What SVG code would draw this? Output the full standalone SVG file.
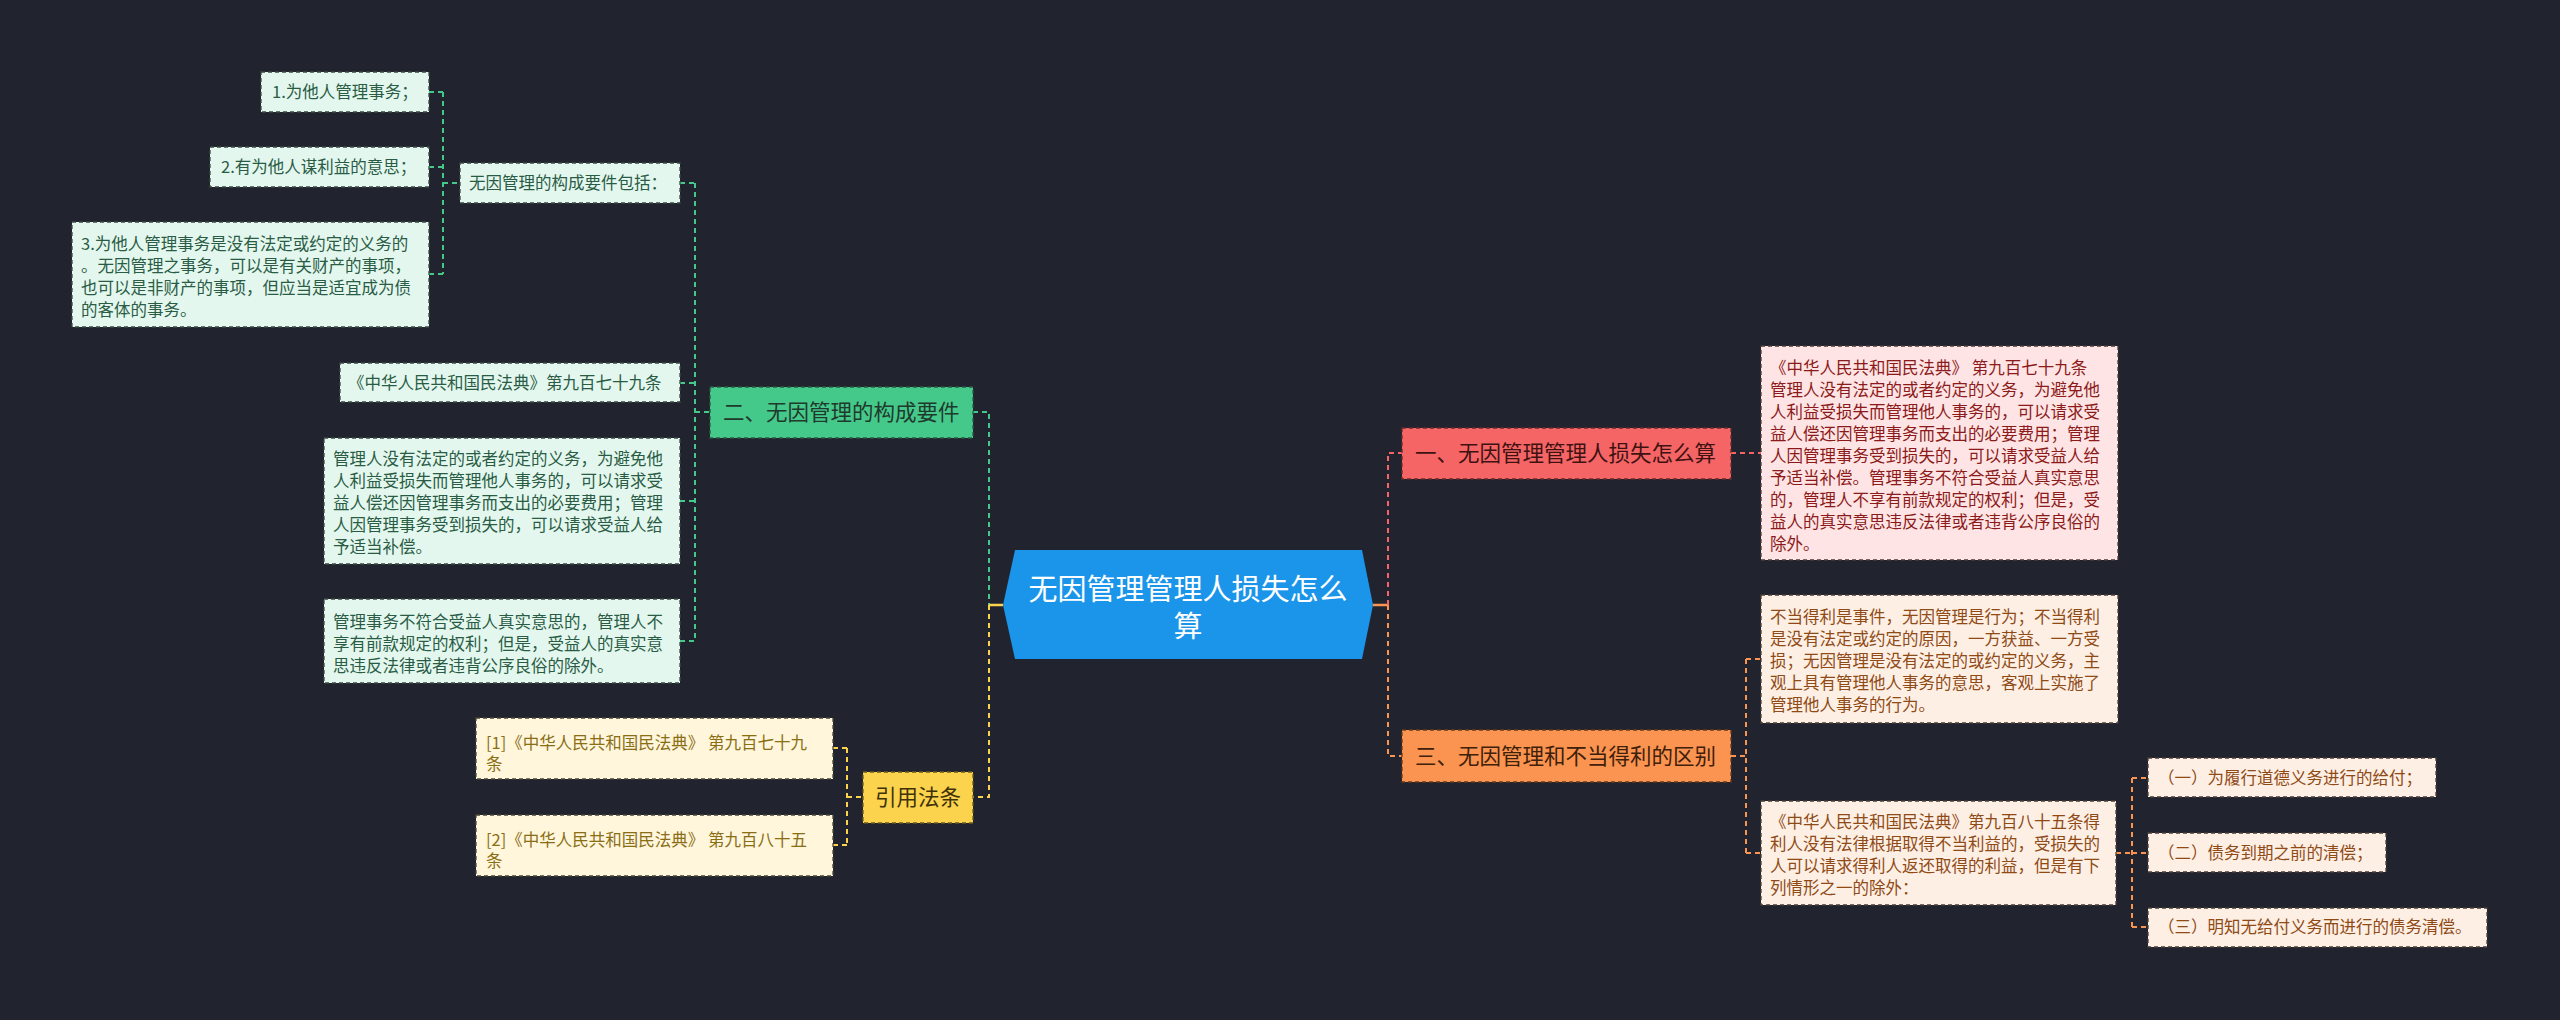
<svg xmlns="http://www.w3.org/2000/svg" width="2560" height="1020" viewBox="0 0 2560 1020">
<style>
text{font-family:"Noto Sans CJK SC","Noto Sans",sans-serif;}
.c{font-size:16.5px;}
.m{font-size:21.5px;}
.bd{stroke-width:1.3;stroke-dasharray:4 3;}
.gC rect{fill:#e3f7ee;stroke:#3a4a42;}
.gC text{fill:#2a5c45;}
.rC rect{fill:#fee4e4;stroke:#4a3a3a;}
.rC text{fill:#8c1a1a;}
.oC rect{fill:#fdefe4;stroke:#4a3e36;}
.oC text{fill:#8f4a16;}
.yC rect{fill:#fff6dc;stroke:#4a4636;}
.yC text{fill:#8a6e14;}
.ln{fill:none;stroke-width:2;stroke-dasharray:5 4;}
.lg{stroke:#45c98b;}
.lr{stroke:#f56565;}
.lo{stroke:#fa9450;}
.ly{stroke:#fcd34d;}
</style>
<rect width="2560" height="1020" fill="#21242f"/>
<g id="connectors">
  <path class="ln lg" d="M429 92H443M429 167H443M429 274H443M443 92V274M443 183H460"/>
  <path class="ln lg" d="M680 183H695M680 383H695M680 501H695M680 641H695M695 183V641M695 412H710"/>
  <path class="ln lg" d="M973 412H989V605"/>
  <path class="ln ly" d="M989 605V797H973"/>
  <path d="M989 605H1003" stroke="#fcd34d" stroke-width="2.5" fill="none"/>
  <path class="ln ly" d="M833 748H847M833 845H847M847 748V845M847 797H863"/>
  <path d="M1373 605H1388" stroke="#fa9450" stroke-width="2.5" fill="none"/>
  <path class="ln lr" d="M1388 605V453H1402M1731 453H1761"/>
  <path class="ln lo" d="M1388 605V756H1402"/>
  <path class="ln lo" d="M1731 756H1746M1746 659V853M1746 659H1761M1746 853H1761"/>
  <path class="ln lo" d="M2116 853H2132M2132 778V927M2132 778H2148M2132 853H2148M2132 927H2148"/>
</g>
<g id="root">
  <polygon points="1003,605 1015,550 1362,550 1373,605 1362,659 1015,659" fill="#1b95ea"/>
  <text x="1188" y="600" font-size="29" fill="#ffffff" text-anchor="middle">无因管理管理人损失怎么</text>
  <text x="1188" y="637" font-size="29" fill="#ffffff" text-anchor="middle">算</text>
</g>
<g id="n2">
  <rect class="bd" x="710" y="387" width="263" height="51" fill="#45c98b" stroke="#2a5a44"/>
  <text class="m" x="723" y="420" fill="#1f3a2c">二、无因管理的构成要件</text>
</g>
<g id="n2a" class="gC">
  <rect class="bd" x="460" y="163" width="220" height="40"/>
  <text class="c" x="469" y="189">无因管理的构成要件包括：</text>
</g>
<g id="n2a1" class="gC">
  <rect class="bd" x="261" y="72" width="168" height="40"/>
  <text class="c" x="272" y="98">1.为他人管理事务；</text>
</g>
<g id="n2a2" class="gC">
  <rect class="bd" x="210" y="147" width="219" height="40"/>
  <text class="c" x="221" y="173">2.有为他人谋利益的意思；</text>
</g>
<g id="n2a3" class="gC">
  <rect class="bd" x="72" y="222" width="357" height="105"/>
  <text class="c" x="81" y="250">3.为他人管理事务是没有法定或约定的义务的</text>
  <text class="c" x="81" y="272">。无因管理之事务，可以是有关财产的事项，</text>
  <text class="c" x="81" y="294">也可以是非财产的事项，但应当是适宜成为债</text>
  <text class="c" x="81" y="316">的客体的事务。</text>
</g>
<g id="n2b" class="gC">
  <rect class="bd" x="340" y="363" width="340" height="39"/>
  <text class="c" x="348" y="389">《中华人民共和国民法典》第九百七十九条</text>
</g>
<g id="n2c" class="gC">
  <rect class="bd" x="324" y="438" width="356" height="126"/>
  <text class="c" x="333" y="465">管理人没有法定的或者约定的义务，为避免他</text>
  <text class="c" x="333" y="487">人利益受损失而管理他人事务的，可以请求受</text>
  <text class="c" x="333" y="509">益人偿还因管理事务而支出的必要费用；管理</text>
  <text class="c" x="333" y="531">人因管理事务受到损失的，可以请求受益人给</text>
  <text class="c" x="333" y="553">予适当补偿。</text>
</g>
<g id="n2d" class="gC">
  <rect class="bd" x="324" y="599" width="356" height="84"/>
  <text class="c" x="333" y="628">管理事务不符合受益人真实意思的，管理人不</text>
  <text class="c" x="333" y="650">享有前款规定的权利；但是，受益人的真实意</text>
  <text class="c" x="333" y="672">思违反法律或者违背公序良俗的除外。</text>
</g>
<g id="ref">
  <rect class="bd" x="863" y="772" width="110" height="51" fill="#fcd34d" stroke="#6a5a20"/>
  <text class="m" x="875" y="805" fill="#3f3208">引用法条</text>
</g>
<g id="ref1" class="yC">
  <rect class="bd" x="476" y="718" width="357" height="61"/>
  <text class="c" x="486" y="749">[1]《中华人民共和国民法典》 第九百七十九</text>
  <text class="c" x="486" y="770">条</text>
</g>
<g id="ref2" class="yC">
  <rect class="bd" x="476" y="815" width="357" height="61"/>
  <text class="c" x="486" y="846">[2]《中华人民共和国民法典》 第九百八十五</text>
  <text class="c" x="486" y="867">条</text>
</g>
<g id="n1">
  <rect class="bd" x="1402" y="428" width="329" height="51" fill="#f56565" stroke="#6a2a2a"/>
  <text class="m" x="1415" y="461" fill="#3f1212">一、无因管理管理人损失怎么算</text>
</g>
<g id="n1a" class="rC">
  <rect class="bd" x="1761" y="346" width="357" height="214"/>
  <text class="c" x="1770" y="374">《中华人民共和国民法典》 第九百七十九条</text>
  <text class="c" x="1770" y="396">管理人没有法定的或者约定的义务，为避免他</text>
  <text class="c" x="1770" y="418">人利益受损失而管理他人事务的，可以请求受</text>
  <text class="c" x="1770" y="440">益人偿还因管理事务而支出的必要费用；管理</text>
  <text class="c" x="1770" y="462">人因管理事务受到损失的，可以请求受益人给</text>
  <text class="c" x="1770" y="484">予适当补偿。管理事务不符合受益人真实意思</text>
  <text class="c" x="1770" y="506">的，管理人不享有前款规定的权利；但是，受</text>
  <text class="c" x="1770" y="528">益人的真实意思违反法律或者违背公序良俗的</text>
  <text class="c" x="1770" y="550">除外。</text>
</g>
<g id="n3">
  <rect class="bd" x="1402" y="730" width="329" height="52" fill="#fa9450" stroke="#6a3a1a"/>
  <text class="m" x="1415" y="764" fill="#3f200a">三、无因管理和不当得利的区别</text>
</g>
<g id="n3a" class="oC">
  <rect class="bd" x="1761" y="595" width="357" height="128"/>
  <text class="c" x="1770" y="623">不当得利是事件，无因管理是行为；不当得利</text>
  <text class="c" x="1770" y="645">是没有法定或约定的原因，一方获益、一方受</text>
  <text class="c" x="1770" y="667">损；无因管理是没有法定的或约定的义务，主</text>
  <text class="c" x="1770" y="689">观上具有管理他人事务的意思，客观上实施了</text>
  <text class="c" x="1770" y="711">管理他人事务的行为。</text>
</g>
<g id="n3b" class="oC">
  <rect class="bd" x="1761" y="801" width="355" height="104"/>
  <text class="c" x="1770" y="828">《中华人民共和国民法典》第九百八十五条得</text>
  <text class="c" x="1770" y="850">利人没有法律根据取得不当利益的，受损失的</text>
  <text class="c" x="1770" y="872">人可以请求得利人返还取得的利益，但是有下</text>
  <text class="c" x="1770" y="894">列情形之一的除外：</text>
</g>
<g id="n3b1" class="oC">
  <rect class="bd" x="2148" y="758" width="288" height="39"/>
  <text class="c" x="2158" y="784">（一）为履行道德义务进行的给付；</text>
</g>
<g id="n3b2" class="oC">
  <rect class="bd" x="2148" y="833" width="238" height="39"/>
  <text class="c" x="2158" y="859">（二）债务到期之前的清偿；</text>
</g>
<g id="n3b3" class="oC">
  <rect class="bd" x="2148" y="908" width="339" height="39"/>
  <text class="c" x="2158" y="933">（三）明知无给付义务而进行的债务清偿。</text>
</g>
</svg>
